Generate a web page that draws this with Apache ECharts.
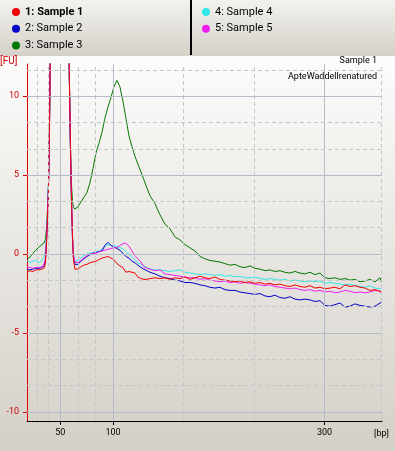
<!DOCTYPE html>
<html>
<head>
<meta charset="utf-8">
<script src="https://cdn.jsdelivr.net/npm/echarts@6/dist/echarts.min.js"></script>
<style>html,body{margin:0;padding:0;background:#d4d0c8;}#c{width:395px;height:451px;}</style>
</head>
<body>
<div id="c"></div>
<script>
// size axis [bp]
const xs = [18.5,21.4,24.2,27.0,29.9,32.7,34.6,36.0,37.0,37.9,38.9,39.8,40.7,42.2,48.8,56.4,57.8,58.7,59.7,60.6,61.6,62.5,63.9,65.3,66.8,
69.6,72.4,75.3,78.1,81.0,83.8,86.6,89.5,92.3,95.1,98.0,100.8,103.7,106.5,109.3,112.2,115.0,117.9,120.7,123.5,126.4,129.2,132.0,134.9,
139.6,144.3,149.1,153.8,158.5,163.3,168.0,172.7,177.5,182.2,186.9,191.6,196.4,201.1,205.8,210.6,215.3,220.0,224.8,229.5,234.2,239.0,243.7,248.4,253.1,257.9,262.6,267.3,272.1,276.8,281.5,286.3,291.0,295.7,300.4,305.2,309.9,314.6,319.4,324.1,328.8,333.6,338.3,343.0,347.8,352.5,353.9];

// fluorescence [FU]
const sample1 = [-1.15,-1.05,-1.1,-1.0,-1.0,-0.95,-0.9,-0.6,0.5,2.0,4.0,7.5,13,30,40,30,16,11,7,3.8,1.2,-0.3,-0.95,-1.0,-0.95,
-0.8,-0.7,-0.65,-0.55,-0.5,-0.45,-0.35,-0.25,-0.2,-0.15,-0.25,-0.35,-0.6,-0.75,-0.85,-1.15,-1.1,-1.15,-1.2,-1.45,-1.55,-1.6,-1.6,-1.55,
-1.5,-1.55,-1.5,-1.6,-1.5,-1.55,-1.45,-1.6,-1.5,-1.4,-1.5,-1.55,-1.45,-1.6,-1.65,-1.7,-1.75,-1.7,-1.8,-1.75,-1.85,-1.8,-1.9,-1.85,-1.95,-1.9,-2.0,-2.05,-1.95,-2.05,-2.1,-2.0,-2.15,-2.1,-2.2,-2.15,-2.1,-2.2,-1.95,-2.05,-2.0,-2.1,-2.15,-2.3,-2.25,-2.35,-2.4];
const sample2 = [-0.95,-1.0,-0.95,-0.9,-0.9,-0.85,-0.75,-0.4,0.7,2.2,4.2,7.8,13,30,40,30,16,11,6.5,3.4,1.0,-0.2,-0.65,-0.7,-0.65,
-0.45,-0.3,-0.15,-0.05,0.05,0.1,0.15,0.2,0.55,0.75,0.55,0.45,0.35,0.25,0.05,-0.15,-0.25,-0.45,-0.55,-0.7,-0.85,-0.95,-1.05,-1.15,
-1.25,-1.4,-1.5,-1.55,-1.65,-1.7,-1.8,-1.8,-1.85,-1.95,-2.0,-2.1,-2.15,-2.1,-2.25,-2.3,-2.3,-2.4,-2.45,-2.5,-2.55,-2.5,-2.65,-2.7,-2.6,-2.75,-2.8,-2.7,-2.85,-2.9,-2.85,-2.9,-3.0,-2.95,-3.25,-3.3,-3.2,-3.1,-3.35,-3.3,-3.15,-3.25,-3.3,-3.35,-3.3,-3.1,-3.05];
const sample3 = [-0.3,-0.2,0.05,0.25,0.45,0.6,0.7,0.9,1.6,2.7,4.5,8,13,30,40,30,16,11,7,4.5,3.4,3.0,2.85,2.85,3.0,
3.3,3.6,3.9,4.5,5.4,6.4,7.0,7.7,8.6,9.3,9.9,10.6,11.0,10.6,9.7,8.6,7.5,6.8,6.2,5.7,5.2,4.7,4.2,3.7,
3.2,2.5,1.9,1.6,1.1,0.9,0.6,0.4,0.2,-0.15,-0.3,-0.4,-0.45,-0.5,-0.6,-0.7,-0.65,-0.8,-0.85,-0.75,-0.9,-0.95,-1.05,-1.0,-1.1,-1.05,-1.15,-1.2,-1.1,-1.2,-1.25,-1.15,-1.3,-1.2,-1.5,-1.55,-1.5,-1.6,-1.55,-1.65,-1.6,-1.75,-1.7,-1.6,-1.75,-1.5,-1.75];
const sample4 = [-0.4,-0.55,-0.45,-0.4,-0.55,-0.4,-0.2,0.2,1.2,2.5,4.3,8,13,30,40,30,16,11,6.8,3.6,1.2,0.0,-0.45,-0.5,-0.4,
-0.25,-0.1,0.0,0.05,0.1,0.15,0.2,0.3,0.5,0.6,0.55,0.5,0.5,0.4,0.35,0.15,0.0,-0.2,-0.35,-0.55,-0.65,-0.75,-0.85,-0.95,
-1.0,-1.0,-1.05,-1.1,-1.05,-1.0,-1.15,-1.2,-1.25,-1.3,-1.25,-1.3,-1.35,-1.3,-1.4,-1.35,-1.45,-1.4,-1.5,-1.5,-1.45,-1.55,-1.6,-1.55,-1.6,-1.65,-1.6,-1.7,-1.65,-1.7,-1.75,-1.7,-1.75,-1.7,-1.85,-1.8,-1.85,-1.9,-1.95,-1.9,-2.0,-2.05,-2.1,-2.0,-2.15,-2.2,-2.2];
const sample5 = [-0.8,-0.85,-0.9,-0.85,-0.85,-0.8,-0.65,-0.3,0.9,2.3,4.2,7.8,13,30,40,30,16,11,7,3.8,1.3,0.0,-0.5,-0.6,-0.55,
-0.4,-0.25,-0.1,0.0,0.05,0.05,0.15,0.2,0.25,0.3,0.35,0.4,0.4,0.55,0.65,0.7,0.5,0.2,-0.1,-0.3,-0.5,-0.8,-0.9,-0.95,
-1.05,-1.0,-1.25,-1.3,-1.35,-1.4,-1.45,-1.5,-1.5,-1.6,-1.55,-1.65,-1.7,-1.75,-1.7,-1.8,-1.75,-1.85,-1.8,-1.85,-1.9,-1.95,-2.0,-1.95,-2.05,-2.1,-2.15,-2.2,-2.15,-2.25,-2.3,-2.25,-2.35,-2.3,-2.4,-2.35,-2.45,-2.4,-2.3,-2.35,-2.45,-2.4,-2.45,-2.4,-2.3,-2.35,-2.5];

const seriesNames = ['1: Sample 1','2: Sample 2','3: Sample 3','4: Sample 4','5: Sample 5'];
const seriesColors = ['#f00000','#0000c8','#007800','#30e6e6','#f020f0'];

const xTickValues = [50, 100, 300];
const xMinorValues = [28.3, 39.0, 66.7, 83.3, 166.7, 233.3, 353.5];
const yTickValues = [-10, -5, 0, 5, 10];
const yMinorValues = [-8.33, -6.67, -3.33, -1.67, 1.67, 3.33, 6.67, 8.33, 11.67];

const FONT = 'Roboto, "Liberation Sans", sans-serif';
const chart = echarts.init(document.getElementById('c'), null, {renderer: 'canvas'});

const solid = {color: '#b6bbc9', type: 'solid', width: 1};
const dashed = {color: '#c6c6c6', type: [4, 3], width: 1};
const gridMarks = []
  .concat(yMinorValues.map(v => ({yAxis: v, lineStyle: dashed})))
  .concat(xMinorValues.map(v => ({xAxis: v, lineStyle: dashed})))
  .concat(yTickValues.map(v => ({yAxis: v, lineStyle: solid})))
  .concat(xTickValues.map(v => ({xAxis: v, lineStyle: solid})));

const sampleData = [sample1, sample2, sample3, sample4, sample5];
const drawOrder = [2, 3, 1, 4, 0];
const dataSeries = drawOrder.map(i => ({
  name: seriesNames[i],
  type: 'line',
  data: xs.map((x, k) => [x, sampleData[i][k]]),
  showSymbol: false,
  symbol: 'none',
  clip: true,
  z: 3,
  color: seriesColors[i],
  itemStyle: {color: seriesColors[i]},
  lineStyle: {color: seriesColors[i], width: 1},
  emphasis: {disabled: true},
  animation: false
}));

const legendText = {fontFamily: FONT, fontSize: 11, color: '#000', lineHeight: 12};

chart.setOption({
  animation: false,
  backgroundColor: 'transparent',
  graphic: [
    {type: 'rect', z: -20, silent: true, shape: {x: 0, y: 56, width: 395, height: 395},
      style: {fill: new echarts.graphic.LinearGradient(0, 0, 0, 1, [{offset: 0, color: '#fcfcfb'}, {offset: 1, color: '#d4d0c8'}])}},
    {type: 'rect', z: -20, silent: true, shape: {x: 0, y: 0, width: 395, height: 56},
      style: {fill: new echarts.graphic.LinearGradient(0, 0, 0, 1, [{offset: 0, color: '#f3f2ef'}, {offset: 1, color: '#d5d1c9'}])}},
    {type: 'rect', z: -10, silent: true, shape: {x: 190, y: 0, width: 2, height: 55}, style: {fill: '#000'}},
    {type: 'text', silent: true, style: {text: '[FU]', x: 0, y: 61, textAlign: 'left', textVerticalAlign: 'middle', font: '10px ' + FONT, fill: '#cc0000'}},
    {type: 'text', silent: true, style: {text: 'Sample 1', x: 377, y: 61, textAlign: 'right', textVerticalAlign: 'middle', font: '9px ' + FONT, fill: '#000'}},
    {type: 'text', silent: true, style: {text: 'ApteWaddellrenatured', x: 377, y: 77, textAlign: 'right', textVerticalAlign: 'middle', font: '9px ' + FONT, fill: '#000'}},
    {type: 'text', silent: true, style: {text: '[bp]', x: 389, y: 434, textAlign: 'right', textVerticalAlign: 'middle', font: '9px ' + FONT, fill: '#000'}}
  ],
  legend: [
    {orient: 'vertical', left: 7, top: 1, itemWidth: 8, itemHeight: 8, itemGap: 4.7, icon: 'circle',
      selectedMode: false, textStyle: legendText,
      data: [{name: seriesNames[0], textStyle: {fontWeight: 'bold'}}, seriesNames[1], seriesNames[2]]},
    {orient: 'vertical', left: 197, top: 1, itemWidth: 8, itemHeight: 8, itemGap: 4.7, icon: 'circle',
      selectedMode: false, textStyle: legendText,
      data: [seriesNames[3], seriesNames[4]]}
  ],
  grid: {left: 27, top: 64, width: 355, height: 357, containLabel: false},
  xAxis: {
    type: 'value', min: 18.6, max: 354.4,
    axisLine: {onZero: false, lineStyle: {color: '#000', width: 1}},
    axisTick: {show: true, length: 4, customValues: xTickValues, lineStyle: {color: '#000'}},
    axisLabel: {customValues: xTickValues, margin: 7, color: '#000', fontFamily: FONT, fontSize: 9},
    splitLine: {show: false}
  },
  yAxis: {
    type: 'value', min: -10.57, max: 12.04,
    axisLine: {show: true, onZero: false, lineStyle: {color: '#e00000', width: 1}},
    axisTick: {show: true, length: 4, customValues: yTickValues, lineStyle: {color: '#e00000'}},
    axisLabel: {customValues: yTickValues, margin: 8, color: '#cc0000', fontFamily: FONT, fontSize: 9},
    splitLine: {show: false}
  },
  series: [{
    name: 'grid', type: 'line', data: [], z: 1, silent: true,
    markLine: {silent: true, symbol: ['none', 'none'], label: {show: false}, animation: false,
      emphasis: {disabled: true}, data: gridMarks}
  }].concat(dataSeries)
});
</script>
</body>
</html>
